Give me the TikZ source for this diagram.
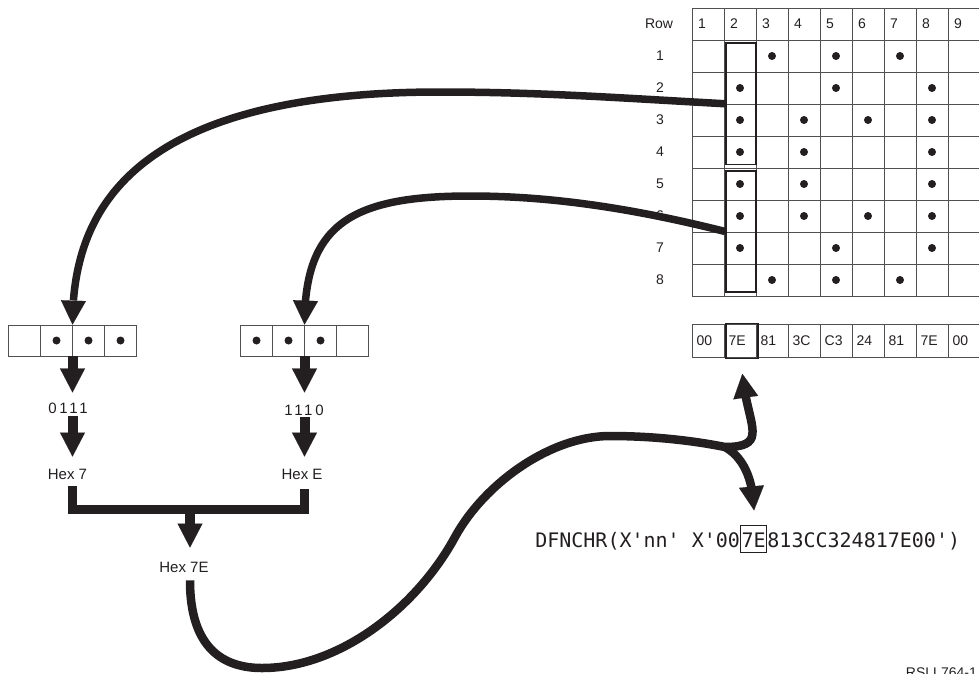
\documentclass[tikz,border=0pt]{standalone}
\usepackage{fontspec}
\setmainfont{Liberation Sans}
\setmonofont{DejaVu Sans Mono}
\usetikzlibrary{arrows.meta,bending,positioning}

\begin{document}
\begin{tikzpicture}[x=1pt,y=-1pt]

\definecolor{mcolor}{HTML}{231F20}
\definecolor{gcolor}{HTML}{505050}

\tikzstyle{gridline}=[line width=0.8pt, color=gcolor]
\tikzstyle{frameline}=[draw, line width=1.6pt, color=mcolor, inner sep=0pt]
\tikzstyle{dot}=[fill=mcolor]
\tikzstyle{numtext}=[color=mcolor, inner sep=0pt, font=\fontsize{14}{16}\selectfont]
\tikzstyle{hextext}=[color=mcolor, inner sep=0pt, font=\fontsize{15}{18}\selectfont]
\tikzstyle{codetext}=[color=mcolor, inner sep=0pt, text height=22pt, text depth=4.5pt, font=\ttfamily\fontsize{20}{24}\selectfont]
\tikzstyle{codebox}=[draw, line width=1pt, inner xsep=1pt]
\tikzstyle{fatarrow}=[line width=10pt, color=mcolor, -{Triangle[width=25pt, length=24pt, line width=0.1pt]}]
\tikzstyle{bracket}=[line width=9pt, color=mcolor, line join=miter]
\tikzstyle{wire}=[line width=7.5pt, color=mcolor, -{Triangle[width=25pt, length=24pt, line width=0.1pt]}]
\tikzstyle{tailwire}=[line width=8.5pt, color=mcolor]

\useasboundingbox (0,0) rectangle (979,673);
\clip (0,0) rectangle (979,673);

\def\nibble#1#2#3{
\begin{scope}[shift={#2}]
    \node[gridline, draw, inner sep=0pt, minimum width=128pt, minimum height=31pt] (#1) at (64, 15.5) {};
    \foreach \k in {1,2,3} {
        \draw[gridline] (32*\k, 0) -- (32*\k, 31);
    }
    \foreach \k in {#3} {
        \fill[dot] (32*\k-16, 15.5) circle (4pt);
    }
\end{scope}
}

% character grid
\foreach \i in {0,...,9} {
    \draw[gridline] (692+32*\i, 8) -- (692+32*\i, 296);
    \draw[gridline] (692, 8+32*\i) -- (980, 8+32*\i);
}
\node[numtext] (rowhead) at (659, 24) {Row};
\foreach \c in {1,...,9} {
    \node[numtext, anchor=west] (col\c) at (666+32*\c, 24) {\c};
}
\foreach \r in {1,...,8} {
    \node[numtext] (row\r) at (660, 24+32*\r) {\r};
}
\foreach \c/\r in {3/1,5/1,7/1, 2/2,5/2,8/2, 2/3,4/3,6/3,8/3, 2/4,4/4,8/4,
                   2/5,4/5,8/5, 2/6,4/6,6/6,8/6, 2/7,5/7,8/7, 3/8,5/8,7/8} {
    \fill[dot] (676+32*\c, 24+32*\r) circle (4pt);
}

% column 2, upper and lower half
\node[frameline, minimum width=30pt, minimum height=121.5pt] (nibhi) at (741, 103.75) {};
\node[frameline, minimum width=30pt, minimum height=121pt] (niblo) at (741, 231.5) {};

% hex value of every column
\draw[gridline] (692, 324.5) rectangle (980, 357.5);
\foreach \v [count=\c] in {00,7E,81,3C,C3,24,81,7E,00} {
    \draw[gridline] (692+32*\c, 324.5) -- (692+32*\c, 357.5);
    \node[numtext, anchor=west] (hex\c) at (664.5+32*\c, 341) {\v};
}
\node[frameline, minimum width=32pt, minimum height=35pt] (hexcell) at (741.7, 340.8) {};

% the two halves as bits
\nibble{lnib}{(8.5, 325)}{2,3,4}
\nibble{rnib}{(240.5, 325)}{1,2,3}

\draw[wire] (nibhi.west) .. controls (620, 98) and (540, 92) .. (440, 92)
    .. controls (120, 92) and (72.5, 220) .. (lnib.north);
\draw[wire] (niblo.west) .. controls (620, 205) and (540, 196) .. (470, 196)
    .. controls (350, 196) and (304.5, 225) .. (rnib.north);

\node[hextext] (bin7) at (68, 408) {\addfontfeature{LetterSpace=18}0111};
\node[hextext] (binE) at (304, 410) {\addfontfeature{LetterSpace=18}1110};
\node[hextext] (hex7) at (67.5, 474) {Hex 7};
\node[hextext] (hexE) at (302, 474) {Hex E};
\node[hextext] (hex7E) at (184, 567) {Hex 7E};

\draw[fatarrow, shorten >=10pt] (lnib.south) -- (lnib.south |- bin7.north);
\draw[fatarrow, shorten <=2pt, shorten >=12pt] (lnib.south |- bin7.south) -- (lnib.south |- hex7.north);
\draw[fatarrow, shorten >=12pt] (rnib.south) -- (rnib.south |- binE.north);
\draw[fatarrow, shorten <=1pt, shorten >=12pt] (rnib.south |- binE.south) -- (rnib.south |- hexE.north);

\coordinate (merge) at (190, 509);
\draw[bracket, shorten <=7pt, shorten >=10pt] (lnib.south |- hex7.south) |- (merge) -| (rnib.south |- hexE.south);
\draw[fatarrow, shorten >=14pt] (merge) -- (merge |- hex7E.north);

% code line
\node[codetext, codebox] (dfnb) at (753.7, 539) {7E};
\node[codetext, left=0pt of dfnb] (dfna) {DFNCHR(X'nn' X'00};
\node[codetext, right=0pt of dfnb] (dfnc) {813CC324817E00')};

\coordinate (fork) at (725, 447);
\draw[tailwire, shorten <=8pt] (merge |- hex7E.south) .. controls (190, 650) and (225, 668) .. (262, 668)
    .. controls (340, 668) and (417, 607) .. (455, 537)
    .. controls (484, 484) and (550, 436) .. (610, 436)
    .. controls (650, 436) and (690, 440) .. (fork);
\draw[wire, line width=8.5pt, shorten >=15pt] (fork) .. controls (775, 447) and (741.7, 420) .. (hexcell.south);
\draw[wire, line width=8.5pt, shorten >=15pt] (fork) .. controls (748, 460) and (756, 490) .. (dfnb.north);

\node[numtext, anchor=north east] (figid) at (977, 668) {RSLL764-1};

\end{tikzpicture}
\end{document}
